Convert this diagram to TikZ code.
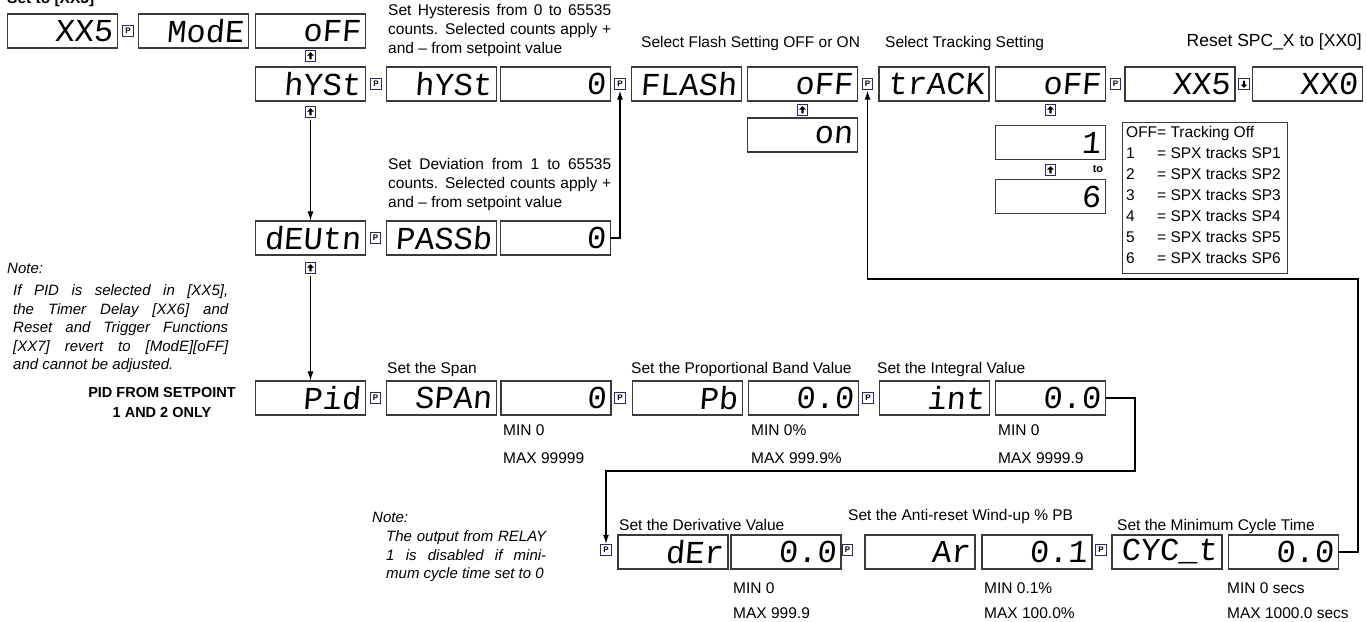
\documentclass[tikz,border=0pt]{standalone}
\usepackage{fontspec}
\setmainfont{Liberation Sans}
\newfontfamily\dispfont[FakeSlant=0.08]{Liberation Mono}
\usetikzlibrary{arrows.meta,calc}
\definecolor{boxgray}{HTML}{3A3A3A}
\definecolor{navy}{HTML}{2A2A6E}
\begin{document}
\begin{tikzpicture}[x=1pt,y=-1pt,
  dbox/.style={draw=boxgray, line width=1.1pt, minimum height=34pt, text width=100pt,
    inner xsep=5pt, inner ysep=0pt, align=right, font=\dispfont\fontsize{32}{32}\selectfont},
  pbtn/.style={draw=navy, line width=0.9pt, minimum size=10.5pt, inner sep=0pt,
    font=\bfseries\fontsize{8}{8}\selectfont},
  ubtn/.style={draw=navy, line width=0.9pt, minimum size=10.5pt, inner sep=0pt,
    path picture={\fill (path picture bounding box.center) ++(0,-3.8) -- ++(3.3,3.3) -- ++(-2.1,0)
      -- ++(0,3.8) -- ++(-2.4,0) -- ++(0,-3.8) -- ++(-2.1,0) -- cycle;}},
  dnbtn/.style={draw=navy, line width=0.9pt, minimum size=10.5pt, inner sep=0pt,
    path picture={\fill (path picture bounding box.center) ++(0,3.8) -- ++(3.3,-3.3) -- ++(-2.1,0)
      -- ++(0,-3.8) -- ++(-2.4,0) -- ++(0,3.8) -- ++(-2.1,0) -- cycle;}},
  arr/.style={-{Latex[length=9pt,width=6pt]}, line width=1.1pt},
  lbl/.style={anchor=base west, inner sep=0pt, font=\fontsize{15.5}{19}\selectfont},
  nlbl/.style={anchor=base west, inner sep=0pt, font=\itshape\fontsize{15}{19}\selectfont},
  blbl/.style={inner sep=0pt, font=\bfseries\fontsize{14.5}{18}\selectfont},
]
\useasboundingbox (0,0) rectangle (1367,621);

% ---------- row 1
\node[anchor=base west, inner sep=0pt, font=\bfseries\fontsize{15.5}{19}\selectfont] (setto) at (7,3) {Set to [XX5]};
\node[dbox] (xx5a) at (62.5,31) {XX5};
\node[pbtn] (pA) at (128,31) {P};
\node[dbox] (mode) at (193.5,31) {ModE};
\node[dbox] (off1) at (310.5,31) {oFF};
\node[ubtn] (u1) at (310.5,56) {};

% ---------- row 2
\node[dbox] (hyst1) at (310.5,84) {hYSt};
\node[pbtn] (pB1) at (376,84) {P};
\node[dbox] (hyst2) at (441.5,84) {hYSt};
\node[dbox] (zeroA) at (555.5,84) {0};
\node[pbtn] (pB2) at (620,84) {P};
\node[dbox] (flash) at (686.5,84) {FLASh};
\node[dbox] (off2) at (802.5,84) {oFF};
\node[pbtn] (pB3) at (867.5,84) {P};
\node[dbox] (track) at (934,84) {trACK};
\node[dbox] (off3) at (1050.5,84) {oFF};
\node[pbtn] (pB4) at (1115.5,84) {P};
\node[dbox] (xx5b) at (1180,84) {XX5};
\node[dnbtn] (dn) at (1244,84) {};
\node[dbox] (xx0) at (1307.5,84) {XX0};

\node[ubtn] (u2) at (310.5,112) {};
\node[ubtn] (u3) at (802.5,110) {};
\node[dbox] (on) at (802.5,135) {on};
\node[ubtn] (u4) at (1050.5,110) {};
\node[dbox] (one) at (1050.5,142.5) {1};
\node[ubtn] (u5) at (1050.5,170) {};
\node[inner sep=0pt, font=\bfseries\fontsize{11}{11}\selectfont] (to) at (1098,169) {to};
\node[dbox] (six) at (1050.5,196.5) {6};

% labels top
\node[lbl] (h1) at (388,15.5) {\makebox[223pt][s]{Set Hysteresis from 0 to 65535}};
\node[lbl] (h2) at (388,34.5) {\makebox[223pt][s]{counts. Selected counts apply +}};
\node[lbl] (h3) at (388,53.5) {and – from setpoint value};
\node[lbl] (fl) at (641,47.5) {Select Flash Setting OFF or ON};
\node[lbl] (tr) at (885,47.5) {Select Tracking Setting};
\node[anchor=base east, inner sep=0pt, font=\fontsize{17.5}{20}\selectfont] (rs) at (1362,46) {Reset SPC\_X to [XX0]};

% tracking table
\node[draw=boxgray, line width=0.9pt, minimum width=165pt, minimum height=151pt, anchor=north west, inner sep=0pt] (tab) at (1122,122) {};
\node[lbl] (t0) at (1126,137.5) {OFF= Tracking Off};
\foreach \i in {1,...,6}{
  \node[lbl] (tn\i) at (1126,137.5+21*\i) {\i};
  \node[lbl] (tt\i) at (1157,137.5+21*\i) {= SPX tracks SP\i};
}

% ---------- row 3
\node[dbox] (deutn) at (310.5,238) {dEUtn};
\node[pbtn] (pC) at (375.5,238) {P};
\node[dbox] (passb) at (441.5,238) {PASSb};
\node[dbox] (zeroB) at (555.5,238) {0};
\node[ubtn] (u6) at (310.5,268) {};
\node[lbl] (d1) at (388,169) {\makebox[223pt][s]{Set Deviation from 1 to 65535}};
\node[lbl] (d2) at (388,188) {\makebox[223pt][s]{counts. Selected counts apply +}};
\node[lbl] (d3) at (388,207) {and – from setpoint value};

% note 1
\node[nlbl] (n0) at (7,273.5) {Note:};
\node[nlbl] (n1) at (13,295.5) {\makebox[215pt][s]{If PID is selected in [XX5],}};
\node[nlbl] (n2) at (13,314) {\makebox[215pt][s]{the Timer Delay [XX6] and}};
\node[nlbl] (n3) at (13,332.5) {\makebox[215pt][s]{Reset and Trigger Functions}};
\node[nlbl] (n4) at (13,351) {\makebox[215pt][s]{[XX7] revert to [ModE][oFF]}};
\node[nlbl] (n5) at (13,369.5) {and cannot be adjusted.};

% ---------- row 4
\node[blbl] (pf1) at (162,393) {PID FROM SETPOINT};
\node[blbl] (pf2) at (162,413) {1 AND 2 ONLY};
\node[dbox] (pid) at (310.5,398) {Pid};
\node[pbtn] (pD1) at (375.5,398) {P};
\node[dbox] (span) at (441.5,398) {SPAn};
\node[dbox] (zeroC) at (556,398) {0};
\node[pbtn] (pD2) at (620,398) {P};
\node[dbox] (pb) at (687.5,398) {Pb};
\node[dbox] (zz1) at (803.5,398) {0.0};
\node[pbtn] (pD3) at (868,398) {P};
\node[dbox] (int) at (934.5,398) {int};
\node[dbox] (zz2) at (1050.5,398) {0.0};
\node[lbl] (ls) at (387,373.5) {Set the Span};
\node[lbl] (lp) at (631,373.5) {Set the Proportional Band Value};
\node[lbl] (li) at (877,373.5) {Set the Integral Value};
\node[lbl] (m1) at (503,435.5) {MIN 0};
\node[lbl] (x1) at (503,463.5) {MAX 99999};
\node[lbl] (m2) at (751,435.5) {MIN 0\%};
\node[lbl] (x2) at (751,463.5) {MAX 999.9\%};
\node[lbl] (m3) at (998,435.5) {MIN 0};
\node[lbl] (x3) at (998,463.5) {MAX 9999.9};

% ---------- row 5
\node[pbtn] (pE1) at (606,550) {P};
\node[dbox] (der) at (673,552) {dEr};
\node[dbox] (zz3) at (786,552) {0.0};
\node[pbtn] (pE2) at (847.5,550) {P};
\node[dbox] (ar) at (920,552) {Ar};
\node[dbox] (pt1) at (1037,552) {0.1};
\node[pbtn] (pE3) at (1101,550) {P};
\node[dbox] (cyc) at (1167,552) {CYC\_t};
\node[dbox] (zz4) at (1283.5,552) {0.0};
\node[lbl] (ld) at (619,530.5) {Set the Derivative Value};
\node[lbl] (la) at (848,520.5) {Set the Anti-reset Wind-up \% PB};
\node[lbl] (lc) at (1117,530.5) {Set the Minimum Cycle Time};
\node[lbl] (m4) at (733,593.5) {MIN 0};
\node[lbl] (x4) at (733,618) {MAX 999.9};
\node[lbl] (m5) at (984,593.5) {MIN 0.1\%};
\node[lbl] (x5) at (984,618) {MAX 100.0\%};
\node[lbl] (m6) at (1227,593.5) {MIN 0 secs};
\node[lbl] (x6) at (1227,618) {MAX 1000.0 secs};

% note 2
\node[nlbl] (o0) at (372,522.5) {Note:};
\node[nlbl] (o1) at (386,541.5) {\makebox[160pt][s]{The output from RELAY}};
\node[nlbl] (o2) at (386,560.5) {\makebox[160pt][s]{1 is disabled if mini-}};
\node[nlbl] (o3) at (386,578.5) {mum cycle time set to 0};

% ---------- connectors
\draw[arr, shorten <=2pt] (u2.south) -- (deutn.north);
\draw[arr, shorten <=2pt] (u6.south) -- (pid.north);
\draw[arr, shorten >=1pt] (zeroB.east) -| (pB2.south);
\coordinate (k1) at (1135,471);
\draw[arr, shorten >=0.5pt] (zz2.east) -| (k1) -| (pE1.north);
\coordinate (k2) at (1358,279);
\draw[arr, shorten >=1pt] (zz4.east) -| (k2) -| (pB3.south);
\end{tikzpicture}
\end{document}
